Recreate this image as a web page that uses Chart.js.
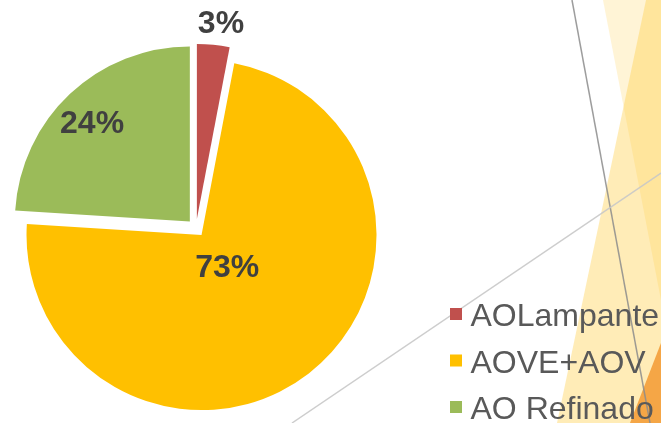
<!DOCTYPE html>
<html>
<head>
<meta charset="utf-8">
<script src="https://cdn.jsdelivr.net/npm/chart.js@4.4.1/dist/chart.umd.min.js"></script>
<style>
  html, body { margin: 0; padding: 0; background: #ffffff; overflow: hidden; }
  #wrap { position: relative; width: 661px; height: 423px; }
  canvas { display: block; }
</style>
</head>
<body>
<div id="wrap"><canvas id="c" width="661" height="423"></canvas></div>
<script>
// ---- data ----
const categories = ['AOLampante', 'AOVE+AOV', 'AO Refinado'];
const shares = [3, 73, 24];
const sliceColors = ['#C0504D', '#FFC000', '#9BBB59'];

// ---- style constants ----
const EXPLODE = 9;                          // px each slice is pulled out
const LABEL_RADIUS = [1.12, 0.24, 0.79];    // label distance as fraction of radius
const LABEL_NUDGE_DEG = [1.6, 0, -1.7];     // small angular shift of labels
const LABEL_FONT = 'bold 32px "Liberation Sans", Arial, sans-serif';
const LEGEND_FONT = '32px "Liberation Sans", Arial, sans-serif';

// exploded slices: translate every arc outward along its mid angle
const ArcEl = Chart.ArcElement || (Chart.elements && Chart.elements.ArcElement);
const baseArcDraw = ArcEl.prototype.draw;
ArcEl.prototype.draw = function (ctx) {
  const mid = (this.startAngle + this.endAngle) / 2;
  ctx.save();
  ctx.translate(Math.cos(mid) * EXPLODE, Math.sin(mid) * EXPLODE);
  baseArcDraw.call(this, ctx);
  ctx.restore();
};

// background decoration (theme facets & lines)
const backdrop = {
  id: 'backdrop',
  beforeDraw(chart) {
    const ctx = chart.ctx;
    ctx.save();
    ctx.fillStyle = '#ffffff';
    ctx.fillRect(0, 0, chart.width, chart.height);
    const poly = (pts, fill) => {
      ctx.beginPath();
      ctx.moveTo(pts[0][0], pts[0][1]);
      for (let i = 1; i < pts.length; i++) ctx.lineTo(pts[i][0], pts[i][1]);
      ctx.closePath();
      ctx.fillStyle = fill;
      ctx.fill();
    };
    poly([[603, 0], [661, 0], [661, 300]], 'rgba(255,200,50,0.2)');
    poly([[646, 0], [661, 0], [661, 423], [557, 423]], 'rgba(255,200,50,0.35)');
    poly([[630, 423], [661, 343], [661, 423]], '#F5A646');
    ctx.lineWidth = 1.5;
    ctx.strokeStyle = 'rgba(140,140,140,0.85)';
    ctx.beginPath(); ctx.moveTo(572, 0); ctx.lineTo(650, 423); ctx.stroke();
    ctx.strokeStyle = 'rgba(200,200,200,0.9)';
    ctx.beginPath(); ctx.moveTo(292, 423); ctx.lineTo(661, 173); ctx.stroke();
    ctx.restore();
  }
};

// percentage labels
const sliceLabels = {
  id: 'sliceLabels',
  afterDatasetsDraw(chart) {
    const ctx = chart.ctx;
    const meta = chart.getDatasetMeta(0);
    const data = chart.data.datasets[0].data;
    ctx.save();
    ctx.font = LABEL_FONT;
    ctx.fillStyle = '#404040';
    ctx.textAlign = 'center';
    ctx.textBaseline = 'middle';
    meta.data.forEach((arc, i) => {
      const mid = (arc.startAngle + arc.endAngle) / 2;
      const a = mid + LABEL_NUDGE_DEG[i] * Math.PI / 180;
      const d = EXPLODE + arc.outerRadius * LABEL_RADIUS[i];
      ctx.fillText(data[i] + '%', arc.x + Math.cos(a) * d, arc.y + Math.sin(a) * d);
    });
    ctx.restore();
  }
};

// legend on the lower right
const sideLegend = {
  id: 'sideLegend',
  afterDraw(chart) {
    const ctx = chart.ctx;
    const ds = chart.data.datasets[0];
    ctx.save();
    ctx.font = LEGEND_FONT;
    ctx.textBaseline = 'alphabetic';
    ctx.textAlign = 'left';
    chart.data.labels.forEach((lab, i) => {
      const base = 326 + i * 46.5;
      ctx.fillStyle = ds.backgroundColor[i];
      ctx.fillRect(450, base - 18, 12, 12);
      ctx.fillStyle = '#595959';
      ctx.fillText(lab, 470.5, base);
    });
    ctx.restore();
  }
};

new Chart(document.getElementById('c'), {
  type: 'pie',
  data: {
    labels: categories,
    datasets: [{
      data: shares,
      backgroundColor: sliceColors,
      borderWidth: 0,
      clip: false
    }]
  },
  options: {
    responsive: false,
    animation: false,
    devicePixelRatio: 1,
    radius: 175,
    layout: { padding: { left: 0, right: 269, top: 33, bottom: 0 } },
    plugins: {
      legend: { display: false },
      tooltip: { enabled: false }
    }
  },
  plugins: [backdrop, sliceLabels, sideLegend]
});
</script>
</body>
</html>
